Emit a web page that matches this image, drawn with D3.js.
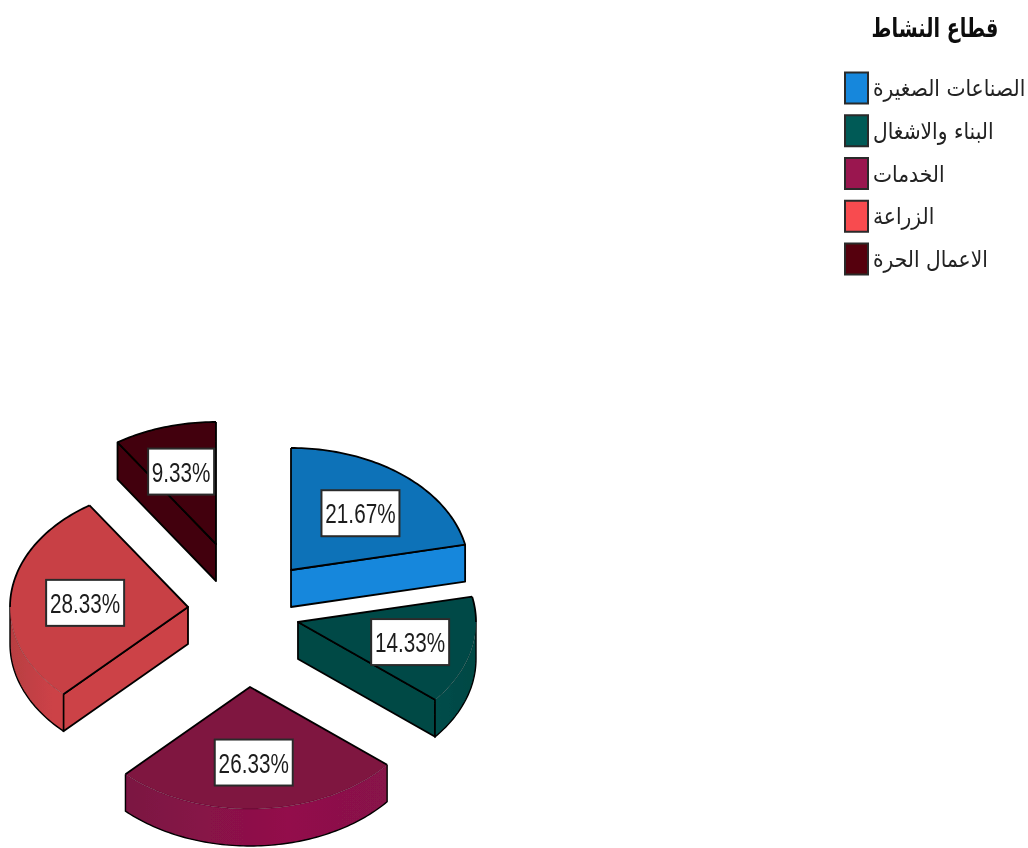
<!DOCTYPE html>
<html lang="ar">
<head>
<meta charset="utf-8">
<script src="https://cdn.jsdelivr.net/npm/d3@7"></script>
<style>
html,body{margin:0;padding:0;background:#fff;overflow:hidden}
svg{display:block}
</style>
</head>
<body>
<svg id="chart" width="1028" height="848" role="img" aria-label="قطاع النشاط"></svg>
<script>
const chartTitle = "قطاع النشاط";
const categories = ["الصناعات الصغيرة", "البناء والاشغال", "الخدمات", "الزراعة", "الاعمال الحرة"];
const percentages = [21.67, 14.33, 26.33, 28.33, 9.33];
const legendColors = ["#1287dc", "#005a57", "#9a1250", "#f84c50", "#540509"];
const topColors = ["#1172b8", "#014a47", "#7f123f", "#c83f45", "#43040a"];
const wallColors = [["#1287dc", "#1287dc"], ["#014d4a", "#014845"], ["#7b1442", "#93104b"], ["#b83e42", "#cc4247"], ["#43040a", "#43040a"]];

// Layout (projection and explosion of the pie)
const W = 1028, H = 848, RX = 178, RY = 122, DEPTH = 37;
const apexX = [291, 298, 250, 188, 216];
const apexY = [570, 622, 687, 607, 544];
const labelNudgeX = [0, 5, -2, 7, -3];
const labelNudgeY = [2, 2, 0, 3, 0];
const labelFraction = 0.62;

const svg = d3.select("#chart");
const defs = svg.append("defs");
defs.append("filter").attr("id", "soft").attr("x", "-5%").attr("y", "-5%").attr("width", "110%").attr("height", "110%")
  .append("feGaussianBlur").attr("stdDeviation", 0.45);

const unit = d3.scaleLinear().domain([-1, 1]);
const sx = unit.copy().range([-RX, RX]);
const sy = unit.copy().range([RY, -RY]);
const pie = d3.pie().sort(null).startAngle(0).endAngle(2 * Math.PI);
const arcs = pie(percentages);
const line = d3.line();

const rimPoint = (a, i, dz = 0) => [apexX[i] + sx(Math.sin(a)), apexY[i] + sy(Math.cos(a)) + dz];
const sampled = (a0, a1) => { const n = Math.max(2, Math.ceil((a1 - a0) / 0.02)); return d3.range(n + 1).map(k => a0 + (a1 - a0) * k / n); };

const pieG = svg.append("g").attr("filter", "url(#soft)");
const drawOrder = [4, 0, 3, 1, 2];
const outline = { stroke: "#000", width: 1.8 };

drawOrder.forEach(i => {
  const { startAngle: a0, endAngle: a1 } = arcs[i];
  const apex = [apexX[i], apexY[i]];
  const apexLow = [apexX[i], apexY[i] + DEPTH];
  const g = pieG.append("g");

  const radialWall = a => {
    g.append("path")
      .attr("d", line([apex, rimPoint(a, i), rimPoint(a, i, DEPTH), apexLow]) + "Z")
      .attr("fill", wallColors[i][1])
      .attr("stroke", outline.stroke).attr("stroke-width", outline.width).attr("stroke-linejoin", "round");
  };
  if (a1 > 0 && a1 < Math.PI) radialWall(a1);
  if (a0 > Math.PI && a0 < 2 * Math.PI) radialWall(a0);

  // Front part of the outer rim
  const f0 = Math.max(a0, Math.PI / 2), f1 = Math.min(a1, 3 * Math.PI / 2);
  if (f1 > f0) {
    const id = "wall" + i;
    const xs = [rimPoint(f0, i)[0], rimPoint(f1, i)[0]];
    const gr = defs.append("linearGradient").attr("id", id).attr("gradientUnits", "userSpaceOnUse")
      .attr("x1", d3.min(xs)).attr("x2", d3.max(xs)).attr("y1", 0).attr("y2", 0);
    gr.append("stop").attr("offset", "0").attr("stop-color", wallColors[i][0]);
    gr.append("stop").attr("offset", i === 2 ? "0.62" : "0.8").attr("stop-color", wallColors[i][1]);
    gr.append("stop").attr("offset", "1").attr("stop-color", i === 2 ? "#87124a" : wallColors[i][1]);
    const angles = sampled(f0, f1);
    const upper = angles.map(a => rimPoint(a, i));
    const lower = angles.map(a => rimPoint(a, i, DEPTH)).reverse();
    g.append("path").attr("d", line(upper.concat(lower)) + "Z").attr("fill", `url(#${id})`);
    g.append("path").attr("d", line([upper[0], rimPoint(f0, i, DEPTH)].concat(lower.slice().reverse()).concat([upper[upper.length - 1]])))
      .attr("fill", "none").attr("stroke", outline.stroke).attr("stroke-width", 1.4);
  }

  // Top face
  const topPts = [apex].concat(sampled(a0, a1).map(a => rimPoint(a, i)));
  g.append("path").attr("d", line(topPts) + "Z").attr("fill", topColors[i]);

  // Rim edge: faint where it meets the front wall, black elsewhere
  const rearParts = [[a0, Math.min(a1, Math.PI / 2)], [Math.max(a0, 3 * Math.PI / 2), a1]];
  rearParts.filter(p => p[1] > p[0]).forEach(p => {
    g.append("path").attr("d", line(sampled(p[0], p[1]).map(a => rimPoint(a, i))))
      .attr("fill", "none").attr("stroke", outline.stroke).attr("stroke-width", outline.width);
  });
  if (f1 > f0) {
    g.append("path").attr("d", line(sampled(f0, f1).map(a => rimPoint(a, i))))
      .attr("fill", "none").attr("stroke", "#000").attr("stroke-opacity", 0.22).attr("stroke-width", 1);
  }
  // Radial edges
  g.append("path").attr("d", line([rimPoint(a0, i), apex, rimPoint(a1, i)]))
    .attr("fill", "none").attr("stroke", outline.stroke).attr("stroke-width", outline.width).attr("stroke-linejoin", "round");
});

// Percentage labels
const labelG = svg.append("g").attr("filter", "url(#soft)");
arcs.forEach((d, i) => {
  const mid = (d.startAngle + d.endAngle) / 2;
  const text = percentages[i].toFixed(2) + "%";
  const cx = apexX[i] + sx(Math.sin(mid)) * labelFraction + labelNudgeX[i];
  const cy = apexY[i] + sy(Math.cos(mid)) * labelFraction + labelNudgeY[i];
  const bw = text.length * 12 + 6, bh = 46;
  labelG.append("rect").attr("x", cx - bw / 2).attr("y", cy - bh / 2).attr("width", bw).attr("height", bh)
    .attr("fill", "#fff").attr("stroke", "#2b2b2b").attr("stroke-width", 2);
  labelG.append("text").attr("transform", `translate(${cx},${cy + 10}) scale(0.74,1)`).attr("text-anchor", "middle")
    .attr("font-family", "'Liberation Sans',sans-serif").attr("font-size", 28)
    .attr("fill", "#1c1c1c").text(text);
});

// Legend
const legendY = d3.scalePoint().domain(d3.range(categories.length)).range([88, 259]);
const legendG = svg.append("g").attr("filter", "url(#soft)");
legendG.append("text").attr("transform", "translate(935,37) scale(0.74,1)").attr("text-anchor", "middle")
  .attr("font-family", "'DejaVu Sans',sans-serif").attr("font-weight", "bold").attr("font-size", 26).attr("fill", "#111").text(chartTitle);
categories.forEach((c, i) => {
  const y = legendY(i);
  legendG.append("rect").attr("x", 845).attr("y", y - 15.5).attr("width", 23).attr("height", 31)
    .attr("fill", legendColors[i]).attr("stroke", "#2a2a2a").attr("stroke-width", 2);
  legendG.append("text").attr("transform", `translate(873,${y + 8}) scale(0.88,1)`).attr("text-anchor", "start")
    .attr("font-family", "'DejaVu Sans',sans-serif").attr("font-size", 23).attr("fill", "#222").text(c);
});
</script>
</body>
</html>
